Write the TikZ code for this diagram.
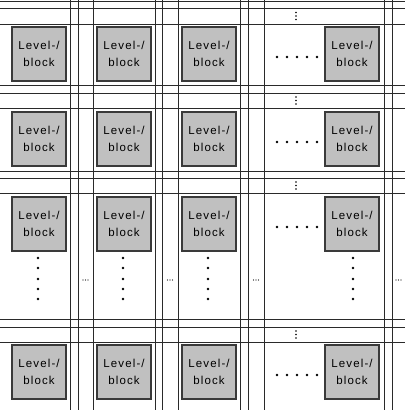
\documentclass[tikz,border=0pt]{standalone}
\usepackage{fontspec}
\newfontfamily\blockfont[LetterSpace=10]{Liberation Sans}
\definecolor{gridline}{HTML}{2A2A2A}
\definecolor{blockfill}{HTML}{C0C0C0}
\definecolor{blockline}{HTML}{3A3A3A}
\tikzset{
  levelblock/.style={draw=blockline, fill=blockfill, line width=1.1pt,
    minimum width=54pt, minimum height=54pt, inner sep=0pt,
    align=center, font=\blockfont\fontsize{11.5}{17.5}\selectfont},
  bus/.style={draw=gridline, line width=1pt}
}
\begin{document}
\begin{tikzpicture}[x=1pt, y=-1pt]
    \useasboundingbox (0, 0) rectangle (405, 410);
    % horizontal buses
    \draw[bus] (0, 1) -- (405, 1);
    \draw[bus] (0, 8) -- (405, 8);
    \draw[bus] (0, 24) -- (405, 24);
    \draw[bus] (0, 85) -- (405, 85);
    \draw[bus] (0, 93) -- (405, 93);
    \draw[bus] (0, 108) -- (405, 108);
    \draw[bus] (0, 171) -- (405, 171);
    \draw[bus] (0, 178) -- (405, 178);
    \draw[bus] (0, 193) -- (405, 193);
    \draw[bus] (0, 319) -- (405, 319);
    \draw[bus] (0, 327) -- (405, 327);
    \draw[bus] (0, 342) -- (405, 342);
    % vertical buses
    \draw[bus] (70, 0) -- (70, 410);
    \draw[bus] (78, 0) -- (78, 410);
    \draw[bus] (93, 0) -- (93, 410);
    \draw[bus] (155, 0) -- (155, 410);
    \draw[bus] (162, 0) -- (162, 410);
    \draw[bus] (178, 0) -- (178, 410);
    \draw[bus] (240, 0) -- (240, 410);
    \draw[bus] (248, 0) -- (248, 410);
    \draw[bus] (264, 0) -- (264, 410);
    \draw[bus] (384, 0) -- (384, 410);
    \draw[bus] (392, 0) -- (392, 410);
    % blocks
    \node[levelblock] (b11) at (39, 54) {Level-/\\block};
    \node[levelblock] (b12) at (124, 54) {Level-/\\block};
    \node[levelblock] (b13) at (209, 54) {Level-/\\block};
    \node[levelblock] (b1n) at (352, 54) {Level-/\\block};
    \node[levelblock] (b21) at (39, 139) {Level-/\\block};
    \node[levelblock] (b22) at (124, 139) {Level-/\\block};
    \node[levelblock] (b23) at (209, 139) {Level-/\\block};
    \node[levelblock] (b2n) at (352, 139) {Level-/\\block};
    \node[levelblock] (b31) at (39, 224) {Level-/\\block};
    \node[levelblock] (b32) at (124, 224) {Level-/\\block};
    \node[levelblock] (b33) at (209, 224) {Level-/\\block};
    \node[levelblock] (b3n) at (352, 224) {Level-/\\block};
    \node[levelblock] (bm1) at (39, 372) {Level-/\\block};
    \node[levelblock] (bm2) at (124, 372) {Level-/\\block};
    \node[levelblock] (bm3) at (209, 372) {Level-/\\block};
    \node[levelblock] (bmn) at (352, 372) {Level-/\\block};
    % dots between the blocks
    \foreach \y in {57, 142, 227, 375}
      \foreach \x in {277, 287, 297, 307, 317}
        \fill[black] (\x, \y) circle (1.3pt);
    \foreach \x in {38, 123, 208, 353}
      \foreach \y in {258, 268, 279, 289, 299}
        \fill[black] (\x, \y) circle (1.3pt);
    % small dots between the bus lines
    \foreach \x in {85.5, 170, 256, 398.5}
      \foreach \d in {-2.5, 0, 2.5}
        \fill[black] (\x+\d, 280) circle (0.55pt);
    \foreach \y in {16, 100.5, 185.5, 334.5}
      \foreach \d in {-3.5, 0, 3.5}
        \fill[black] (296, \y+\d) circle (0.9pt);
  \end{tikzpicture}
\end{document}
